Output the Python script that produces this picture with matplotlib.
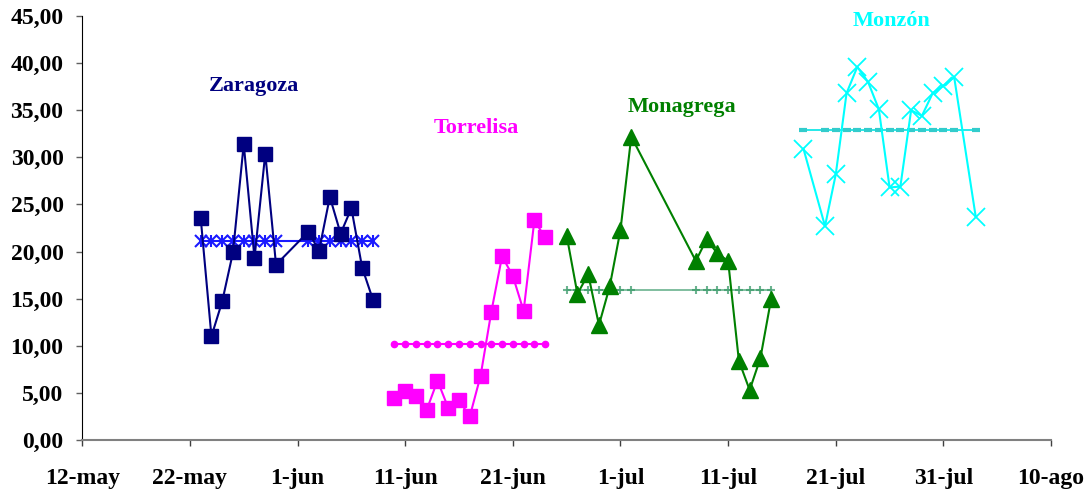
import matplotlib.pyplot as plt
import matplotlib.dates as mdates
from matplotlib.ticker import FixedLocator, FuncFormatter
import pandas as pd

plt.rcParams['font.family'] = ['Liberation Serif', 'DejaVu Serif']
plt.rcParams['font.weight'] = 'bold'

# sampling dates and values per site
zaragoza_dates = ['2004-05-23', '2004-05-24', '2004-05-25', '2004-05-26', '2004-05-27',
                  '2004-05-28', '2004-05-29', '2004-05-30', '2004-06-02', '2004-06-03',
                  '2004-06-04', '2004-06-05', '2004-06-06', '2004-06-07', '2004-06-08']
zaragoza_vals = [23.6, 11.0, 14.7, 19.9, 31.4, 19.3, 30.4, 18.6, 22.1, 20.1,
                 25.8, 21.9, 24.6, 18.3, 14.9]
zaragoza_mean = 21.15

torrelisa_dates = ['2004-06-10', '2004-06-11', '2004-06-12', '2004-06-13', '2004-06-14',
                   '2004-06-15', '2004-06-16', '2004-06-17', '2004-06-18', '2004-06-19',
                   '2004-06-20', '2004-06-21', '2004-06-22', '2004-06-23', '2004-06-24']
torrelisa_vals = [4.5, 5.2, 4.7, 3.2, 6.3, 3.4, 4.2, 2.5, 6.8, 13.6,
                  19.5, 17.4, 13.7, 23.3, 21.5]
torrelisa_mean = 10.2

monagrega_dates = ['2004-06-26', '2004-06-27', '2004-06-28', '2004-06-29', '2004-06-30',
                   '2004-07-01', '2004-07-02', '2004-07-08', '2004-07-09', '2004-07-10',
                   '2004-07-11', '2004-07-12', '2004-07-13', '2004-07-14', '2004-07-15']
monagrega_vals = [21.7, 15.5, 17.6, 12.2, 16.3, 22.3, 32.2, 19.0, 21.3, 19.8,
                  19.0, 8.4, 5.3, 8.7, 15.0]
monagrega_mean = 15.9

monzon_dates = ['2004-07-18', '2004-07-20', '2004-07-21', '2004-07-22', '2004-07-23',
                '2004-07-24', '2004-07-25', '2004-07-26', '2004-07-27', '2004-07-28',
                '2004-07-29', '2004-07-30', '2004-07-31', '2004-08-01', '2004-08-03']
monzon_vals = [30.9, 22.7, 28.2, 36.8, 39.6, 38.0, 35.1, 26.8, 26.9, 35.0,
               34.4, 36.8, 37.6, 38.5, 23.7]
monzon_mean = 32.85

tick_dates = ['2004-05-12', '2004-05-22', '2004-06-01', '2004-06-11', '2004-06-21',
              '2004-07-01', '2004-07-11', '2004-07-21', '2004-07-31', '2004-08-10']
tick_labels = ['12-may', '22-may', '1-jun', '11-jun', '21-jun',
               '1-jul', '11-jul', '21-jul', '31-jul', '10-ago']

fig = plt.figure(figsize=(10.91, 4.92), dpi=100)
ax = fig.add_axes([0.0754, 0.1057, 0.888, 0.8618])


def d(lst):
    return pd.to_datetime(lst)


# mean levels first so the sample markers sit on top
zd = d(zaragoza_dates)
ax.plot(zd, [zaragoza_mean] * len(zd), color='#1a1aff', lw=1.5, marker='x', ms=8, mew=1.5)
ax.plot(zd, [zaragoza_mean] * len(zd), color='#1a1aff', lw=0, marker='|', ms=9, mew=1.5)

td = d(torrelisa_dates)
ax.plot(td, [torrelisa_mean] * len(td), color='#ff00ff', lw=1.5, marker='o', ms=4.5)

md = d(monagrega_dates)
ax.plot(md, [monagrega_mean] * len(md), color='#3a9a6a', lw=1.2, alpha=0.75,
        marker='+', ms=6, mew=1.5)

nd = d(monzon_dates)
ax.plot(nd, [monzon_mean] * len(nd), color='#00e5e5', lw=1.2)
ax.plot(nd, [monzon_mean] * len(nd), color='#33cccc', lw=0, marker='_', ms=6, mew=3)

# samples
ax.plot(zd, zaragoza_vals, color='#000080', lw=1.5, marker='s', ms=9.5)
ax.plot(td, torrelisa_vals, color='#ff00ff', lw=1.5, marker='s', ms=10)
ax.plot(md, monagrega_vals, color='#008000', lw=1.5, marker='^', ms=11.5)
ax.plot(nd, monzon_vals, color='#00ffff', lw=1.5, marker='x', ms=13, mew=1.3)

# site names
ax.text(pd.Timestamp('2004-05-28'), 37.05, 'Zaragoza', color='#000080',
        fontsize=16, ha='center', va='baseline')
ax.text(pd.Timestamp('2004-06-17 14:00'), 32.55, 'Torrelisa', color='#ff00ff',
        fontsize=16, ha='center', va='baseline')
ax.text(pd.Timestamp('2004-07-06 18:00'), 34.85, 'Monagrega', color='#008000',
        fontsize=16, ha='center', va='baseline')
ax.text(pd.Timestamp('2004-07-26 05:00'), 43.95, 'Monzón', color='#00ffff',
        fontsize=16, ha='center', va='baseline')

ax.set_ylim(0, 45)
ax.set_yticks(range(0, 46, 5))
ax.yaxis.set_major_formatter(FuncFormatter(lambda v, p: f'{v:.2f}'.replace('.', ',')))

ticks = mdates.date2num(d(tick_dates))
ax.set_xlim(ticks[0], ticks[-1])
ax.xaxis.set_major_locator(FixedLocator(ticks))
ax.set_xticklabels(tick_labels)

for s in ['top', 'right']:
    ax.spines[s].set_visible(False)
ax.spines['left'].set_color('black')
ax.spines['bottom'].set_color('#808080')
ax.spines['bottom'].set_linewidth(1.5)
ax.tick_params(axis='y', length=4.5, width=1, color='#606060', pad=9, labelsize=17)
ax.tick_params(axis='x', length=4.5, width=1, color='#404040', pad=16, labelsize=17)

plt.savefig('out.png', dpi=100)
